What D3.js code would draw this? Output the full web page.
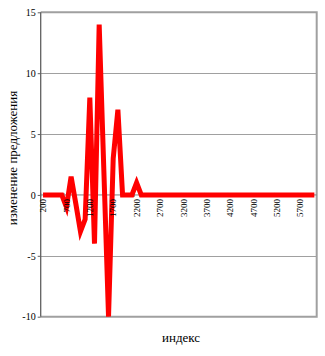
<!DOCTYPE html>
<html>
<head>
<meta charset="utf-8">
<script src="https://cdn.jsdelivr.net/npm/d3@7"></script>
<style>
html,body{margin:0;padding:0;background:#fff;}
svg{display:block;}
</style>
</head>
<body>
<svg id="chart" width="325" height="356"></svg>
<script>
// ---- data ----
const categories = d3.range(200, 6001, 100); // 200 .. 6000 step 100 (59 points)
const values = [
  0, 0, 0, 0, 0,        // 200-600
  -1, 1.5, -0.7, -3, -2, // 700-1100
  8, -4, 14, 2, -10,    // 1200-1600
  3, 7, 0, 0, 0,        // 1700-2100
  1, 0, 0, 0, 0,        // 2200-2600
  0, 0, 0, 0, 0,
  0, 0, 0, 0, 0,
  0, 0, 0, 0, 0,
  0, 0, 0, 0, 0,
  0, 0, 0, 0, 0,
  0, 0, 0, 0, 0,
  0, 0, 0, 0            // ... 6000
];
const xTickLabels = ["200","700","1200","1700","2200","2700","3200","3700","4200","4700","5200","5700"];
const yTicks = [-10, -5, 0, 5, 10, 15];
const yTitle = "изменение предложения";
const xTitle = "индекс";

// ---- layout ----
const svg = d3.select("#chart");
const pL = 40.7, pR = 316.7, pT = 12.3, pB = 316.7;
const font = "'Liberation Serif', 'Times New Roman', serif";

const x = d3.scaleBand().domain(categories.map(String)).range([pL, pR]).padding(0);
const xc = d => x(String(d)) + x.bandwidth() / 2;
const y = d3.scaleLinear().domain([-10, 15]).range([pB, pT]);

// gridlines
svg.append("g").selectAll("line")
  .data(yTicks.filter(v => v !== 0 && v !== -10 && v !== 15))
  .join("line")
  .attr("x1", pL).attr("x2", pR)
  .attr("y1", d => Math.round(y(d)) + 0.5).attr("y2", d => Math.round(y(d)) + 0.5)
  .attr("stroke", "#a0a0a0").attr("stroke-width", 1);

// plot border (top, right, bottom)
svg.append("path")
  .attr("d", `M${pL},${y(15)}H${pR}V${y(-10)}H${pL}`)
  .attr("fill", "none").attr("stroke", "#a0a0a0").attr("stroke-width", 2);

// x axis at zero
const xAxisG = svg.append("g").attr("transform", `translate(0,${y(0)})`);
xAxisG.append("line").attr("x1", pL).attr("x2", pR)
  .attr("stroke", "#808080").attr("stroke-width", 1);
xAxisG.selectAll("line.tk")
  .data(categories.filter((d, i) => i % 5 === 0))
  .join("line").attr("class", "tk")
  .attr("x1", d => x(String(d))).attr("x2", d => x(String(d)))
  .attr("y1", -2).attr("y2", 2)
  .attr("stroke", "#808080");

// y axis
const yAxis = d3.axisLeft(y).tickValues(yTicks).tickSize(3).tickPadding(2)
  .tickFormat(d => String(d));
const yG = svg.append("g").attr("transform", `translate(${pL},0)`).call(yAxis);
yG.select(".domain").remove();
yG.selectAll(".tick line").attr("stroke", "#606060");
yG.selectAll(".tick text").attr("font-family", font).attr("font-size", 10).attr("fill", "#000");
svg.append("line").attr("x1", pL).attr("x2", pL).attr("y1", pT).attr("y2", pB)
  .attr("stroke", "#606060").attr("stroke-width", 1.3);

// data line
const line = d3.line().x((d, i) => xc(categories[i])).y(d => y(d));
svg.append("path")
  .datum(values)
  .attr("d", line)
  .attr("fill", "none")
  .attr("stroke", "#ff0000")
  .attr("stroke-width", 5)
  .attr("stroke-linejoin", "miter")
  .attr("stroke-miterlimit", 4);

// x tick labels (rotated)
svg.append("g").selectAll("text")
  .data(xTickLabels)
  .join("text")
  .attr("transform", d => `translate(${xc(+d)},${y(0) + 4}) rotate(-90)`)
  .attr("text-anchor", "end")
  .attr("dy", "0.35em")
  .attr("font-family", font).attr("font-size", 9).attr("fill", "#000")
  .text(d => d);

// axis titles
svg.append("text")
  .attr("transform", `translate(17,158) rotate(-90)`)
  .attr("text-anchor", "middle")
  .attr("font-family", font).attr("font-size", 13).attr("fill", "#000")
  .text(yTitle);

svg.append("text")
  .attr("x", 181).attr("y", 342)
  .attr("text-anchor", "middle")
  .attr("font-family", font).attr("font-size", 13).attr("fill", "#000")
  .text(xTitle);
</script>
</body>
</html>
